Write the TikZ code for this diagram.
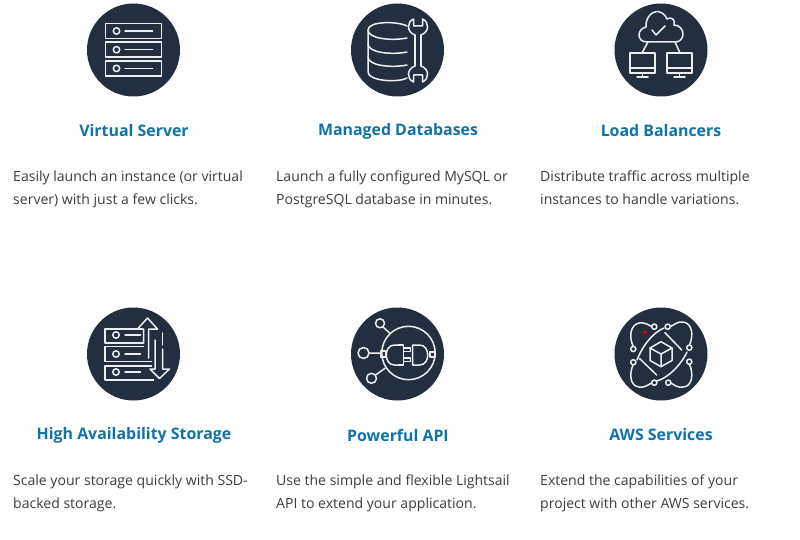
\documentclass[tikz,border=0pt]{standalone}
\usepackage{fontspec}
\setmainfont{Open Sans}
\definecolor{navy}{HTML}{232F3E}
\definecolor{titleblue}{HTML}{0F73A8}
\definecolor{bodygray}{HTML}{3C3C3C}
\tikzset{
  badge/.style = {circle,fill=navy,draw=none,minimum size=93pt,inner sep=0pt},
  heading/.style = {text=titleblue,font=\fontsize{15.9}{18}\selectfont\bfseries,anchor=center,inner sep=0pt},
  blurb/.style = {text=bodygray,font=\fontsize{14.05}{23}\selectfont,anchor=north west,align=left,inner sep=0pt},
  glyph/.style = {draw=white!92!navy,line width=1.5pt,line cap=round,line join=round},
  % One rack unit with its lamp and slot
  rackUnit/.pic = {
    \draw[glyph] (-28,-7.5) rectangle (28,7.5);
    \draw[glyph] (-17,0) circle (3.2);
    \draw[glyph] (-8.5,0) -- (19,0);
  },
  % One monitor on its stand
  screenIcon/.pic = {
    \draw[glyph] (-12.5,-10) rectangle (12.5,10);
    \draw[glyph] (-12.5,5) -- (12.5,5);
    \draw[glyph] (0,10) -- (0,14);
    \draw[glyph] (-5.5,14) -- (5.5,14);
  }
}
\begin{document}
\begin{tikzpicture}[x=1pt,y=-1pt]
    \useasboundingbox (0,0) rectangle (800,540);
    % Round badges behind the icons
    \node[badge] (serverBadge) at (133.5,50) {};
    \node[badge] (dbBadge) at (397.5,50) {};
    \node[badge] (lbBadge) at (661,50) {};
    \node[badge] (storeBadge) at (133.5,354) {};
    \node[badge] (apiBadge) at (397.5,354) {};
    \node[badge] (awsBadge) at (661,354) {};
    % Headings
    \node[heading] (serverHead) at (134,131) {Virtual Server};
    \node[heading] (dbHead) at (398,131) {Managed Databases};
    \node[heading] (lbHead) at (661,131) {Load Balancers};
    \node[heading] (storeHead) at (134,435) {High Availability Storage};
    \node[heading] (apiHead) at (398,435) {Powerful API};
    \node[heading] (awsHead) at (661,435) {AWS Services};
    % Descriptions
    \node[blurb] (serverText) at (13,171) {Easily launch an instance (or virtual\\server) with just a few clicks.};
    \node[blurb] (dbText) at (276,171) {Launch a fully configured MySQL or\\PostgreSQL database in minutes.};
    \node[blurb] (lbText) at (540,171) {Distribute traffic across multiple\\instances to handle variations.};
    \node[blurb] (storeText) at (13,475) {Scale your storage quickly with SSD-\\backed storage.};
    \node[blurb] (apiText) at (276,475) {Use the simple and flexible Lightsail\\API to extend your application.};
    \node[blurb] (awsText) at (540,475) {Extend the capabilities of your\\project with other AWS services.};
    % Virtual server icon
    \foreach \unitnum in {0,1,2}
    \path (133.5,31+18.7*\unitnum) pic {rackUnit};
    % Database icon
    \begin{scope}[shift={(397.5,50)}]
      \draw[glyph] (9.5,-24) .. controls (0,-29) and (-29.5,-29) .. (-29.5,-20) -- (-29.5,22) .. controls (-29.5,31) and (0,33) .. (9.5,28);
      \draw[glyph] (-29.5,-20) .. controls (-29.5,-11) and (-5,-9) .. (9.5,-12);
      \draw[glyph] (-29.5,-6) .. controls (-29.5,3) and (-5,5) .. (9.5,2);
      \draw[glyph] (-29.5,7) .. controls (-29.5,16) and (-5,18) .. (9.5,15);
      % Wrench
      \draw[glyph] (17.5,-15) -- (17.5,16) (23.5,-15) -- (23.5,16);
      \draw[glyph] (17.5,-15) .. controls (9,-18) and (9,-28) .. (16,-31) -- (16,-24) -- (25,-24) -- (25,-31) .. controls (32,-28) and (32,-18) .. (23.5,-15);
      \draw[glyph] (17.5,16) .. controls (9,19) and (9,29) .. (16,32) -- (16,25) -- (25,25) -- (25,32) .. controls (32,29) and (32,19) .. (23.5,16);
    \end{scope}
    % Load balancer icon
    \begin{scope}[shift={(661,50)}]
      \draw[glyph] (-14,-8) .. controls (-19,-8) and (-22,-11) .. (-22,-15) .. controls (-22,-19) and (-19,-22) .. (-15,-23) .. controls (-16,-33) and (-7,-42) .. (1,-37) .. controls (4,-35) and (5,-33) .. (6,-31) .. controls (10,-34) and (15,-30) .. (13,-25) .. controls (19,-25) and (22,-20) .. (22,-16) .. controls (22,-12) and (19,-8) .. (15,-8) -- cycle;
      \draw[glyph] (-9,-20) -- (-5,-15) -- (4,-24);
      \draw[glyph] (-13,-8) -- (-19,3) (14,-8) -- (19,3);
      \path (-18.5,13) pic {screenIcon} (18.5,13) pic {screenIcon};
    \end{scope}
    % Storage icon
    \begin{scope}[shift={(133.5,354)}]
      \draw[glyph] (8,-25) -- (-28.5,-25) -- (-28.5,-11) -- (10,-11);
      \draw[glyph] (10,-7.5) -- (-28.5,-7.5) -- (-28.5,7.5) -- (18,7.5);
      \draw[glyph] (18,12) -- (-28.5,12) -- (-28.5,26) -- (20,26);
      \foreach \lampy in {-19,0,18} {
        \draw[glyph] (-17.5,\lampy) circle (3.2);
        \draw[glyph] (-8.5,\lampy) -- (7,\lampy);
      }
      % Up and down arrows
      \draw[glyph] (10,-11) -- (10,-25) -- (4,-25) -- (14,-36) -- (24,-25) -- (15,-25) -- (15,4);
      \draw[glyph] (29,-21) -- (29,-9);
      \draw[glyph] (21.5,-14) -- (21.5,15) -- (16.5,15) -- (26,24.5) -- (36,15) -- (29,15) -- (29,-5);
    \end{scope}
    % API icon
    \begin{scope}[shift={(397.5,354)}]
      \draw[glyph] (11,-1) circle (26.7);
      \draw[glyph] (-17.5,-30.7) circle (4.5) (-34,-1) circle (5.5) (-26,24.3) circle (5);
      \draw[glyph] (-14.5,-27) -- (-7.5,-20.7) (-28.5,-1) -- (-17,-1) (-22,21) -- (-12.5,14.3);
      % Plug
      \draw[glyph] (-17,-3) rectangle (-12,3);
      \draw[glyph] (1,-9) -- (-3,-9) .. controls (-14,-9) and (-14,11) .. (-3,11) -- (1,11);
      \draw[glyph] (1,-9) -- (6,-9) -- (6,11) -- (1,11);
      \draw[glyph] (6,-6) -- (13,-6) -- (13,-2.5) -- (6,-2.5) (6,4) -- (13,4) -- (13,7.5) -- (6,7.5);
      \draw[glyph] (15,-9) -- (15,11) -- (22,11) .. controls (33,11) and (33,-9) .. (22,-9) -- cycle;
      \draw[glyph] (32.5,-2) rectangle (37.5,3);
    \end{scope}
    % AWS services icon
    \begin{scope}[shift={(661,354)}]
      \draw[glyph] (-28,-8) .. controls (-32,-17) and (-31,-29) .. (-22,-31) .. controls (-17,-32) and (-12,-29) .. (-9.5,-27.5);
      \draw[glyph] (28.5,-9) .. controls (33,-19) and (31,-31) .. (22,-32) .. controls (17,-33) and (13,-29) .. (9.5,-27.5);
      \draw[glyph] (-28,11) .. controls (-32,20) and (-31,32) .. (-22,33) .. controls (-17,34) and (-13,31) .. (-9.5,29);
      \draw[glyph] (28.5,10.5) .. controls (33,20) and (31,33) .. (22,33) .. controls (17,34) and (13,31) .. (10,29);
      \draw[glyph] (-24,6) .. controls (-19,-7) and (-9,-21) .. (3,-26);
      \draw[glyph] (26,-2) .. controls (21,9) and (9,23) .. (-4,27);
      \foreach \nodex/\nodey in {-27.7/-5,-27.7/8.3,-6.7/-27.3,6.7/-27.3,28.3/-6.3,28.3/7.7,-6.7/28.7,7.3/28.7}
      \draw[glyph,fill=navy] (\nodex,\nodey) circle (2.6);
      \fill[red!85!black] (-16,-21.7) circle (2);
      \draw[glyph] (-11,-6) -- (0,-12.3) -- (11,-6) -- (11,6.5) -- (0,12.7) -- (-11,6.5) -- cycle;
      \draw[glyph] (-11,-6) -- (0,0) -- (11,-6) (0,0) -- (0,12.7);
      \draw[glyph] (4,-21.3) -- (20.7,-4) (-21.7,4.3) -- (-4.3,21);
    \end{scope}
\end{tikzpicture}
\end{document}
